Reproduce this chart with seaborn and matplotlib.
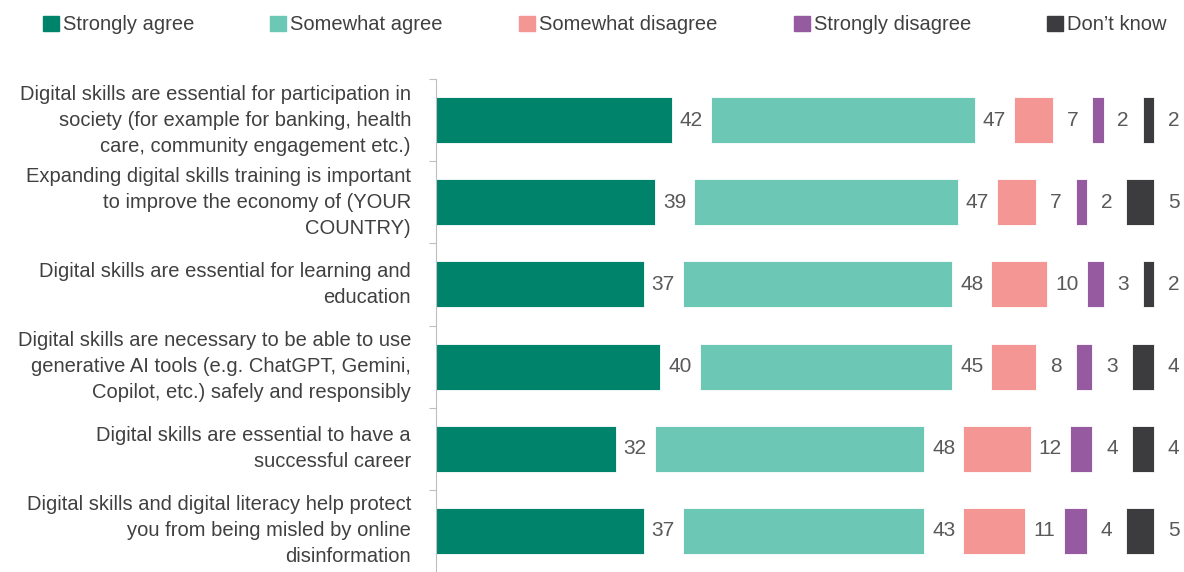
import matplotlib
matplotlib.use("Agg")
import matplotlib.pyplot as plt
from matplotlib.patches import Patch
import pandas as pd
import seaborn as sns

statements = [
    "Digital skills are essential for participation in\nsociety (for example for banking, health\ncare, community engagement etc.)",
    "Expanding digital skills training is important\nto improve the economy of (YOUR\nCOUNTRY)",
    "Digital skills are essential for learning and\neducation",
    "Digital skills are necessary to be able to use\ngenerative AI tools (e.g. ChatGPT, Gemini,\nCopilot, etc.) safely and responsibly",
    "Digital skills are essential to have a\nsuccessful career",
    "Digital skills and digital literacy help protect\nyou from being misled by online\ndisinformation",
]
responses = ["Strongly agree", "Somewhat agree", "Somewhat disagree",
             "Strongly disagree", "Don\u2019t know"]
strongly_agree = [42, 39, 37, 40, 32, 37]
somewhat_agree = [47, 47, 48, 45, 48, 43]
somewhat_disagree = [7, 7, 10, 8, 12, 11]
strongly_disagree = [2, 2, 3, 3, 4, 4]
dont_know = [2, 5, 2, 4, 4, 5]

colors = ["#00836B", "#6DC7B5", "#F49794", "#955AA0", "#3C3C3E"]
GAP = 7  # blank space after each segment, holds the value label

series = [strongly_agree, somewhat_agree, somewhat_disagree, strongly_disagree, dont_know]

# long table with the start of each segment
rows = []
for i, st in enumerate(statements):
    left = 0
    for resp, vals in zip(responses, series):
        rows.append(dict(statement=st, response=resp, value=vals[i], left=left))
        left += vals[i] + GAP
df = pd.DataFrame(rows)

sns.set_style("white")
plt.rcParams['font.family'] = ['Liberation Sans', 'DejaVu Sans']
plt.rcParams['font.size'] = 14

fig = plt.figure(figsize=(11.84, 5.72), dpi=100)
ax = fig.add_axes([436 / 1184, 0, 1 - 436 / 1184, 1 - 79 / 572])

text_col = "#404040"
num_col = "#595959"

for resp, col in zip(responses, colors):
    sub = df[df.response == resp]
    sns.barplot(data=sub, x="value", y="statement", order=statements,
                left=sub["left"].to_numpy(), color=col, orient="h",
                width=0.56, errorbar=None, ax=ax, saturation=1,
                edgecolor="white", linewidth=0.6)
    for _, r in sub.iterrows():
        ax.text(r.left + r.value + GAP / 2, statements.index(r.statement),
                f"{r.value}", ha="center", va="center", color=num_col, fontsize=15)

ax.set_xlim(0, 748 / 5.61)
ax.set_ylim(5.44, -0.5)
ax.set_xlabel("")
ax.set_ylabel("")
ax.set_xticks([])
ax.tick_params(axis="y", which="major", left=False, length=0, pad=18,
               labelsize=14.5, labelcolor=text_col)
ax.set_yticks([i + 0.5 for i in range(-1, len(statements))], minor=True)
ax.tick_params(axis="y", which="minor", left=True, length=5, width=0.8,
               color="#BFBFBF", direction="out")
for lab in ax.get_yticklabels():
    lab.set_linespacing(1.47)
    lab.set_ha("right")
    lab.set_va("center")
for side in ["top", "right", "bottom"]:
    ax.spines[side].set_visible(False)
ax.spines["left"].set_color("#BFBFBF")
ax.spines["left"].set_linewidth(0.8)

# legend items placed one by one, as in the reference
legend_x = [43, 270, 519, 794, 1047]
for resp, col, x in zip(responses, colors, legend_x):
    h = Patch(facecolor=col, edgecolor=col)
    fig.legend([h], [resp], loc="center left", bbox_to_anchor=(x / 1184, 1 - 25 / 572),
               frameon=False, borderpad=0, borderaxespad=0, handlelength=0.8,
               handleheight=0.8, handletextpad=0.2, fontsize=14.5, labelcolor=text_col)

fig.savefig("out.png", dpi=100)
